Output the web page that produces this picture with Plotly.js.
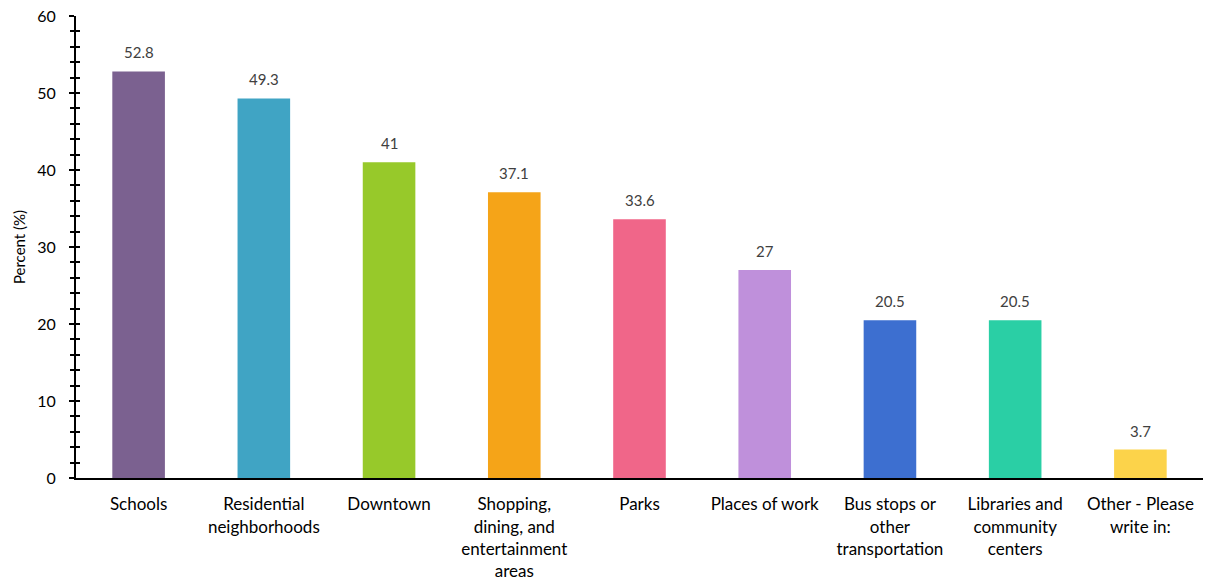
<!DOCTYPE html>
<html>
<head>
<meta charset="utf-8">
<script src="https://cdn.plot.ly/plotly-3.0.1.min.js"></script>
<style>html,body{margin:0;padding:0;background:#fff}#chart{width:1211px;height:582px}</style>
</head>
<body>
<div id="chart"></div>
<script>
const categories = ["Schools", "Residential<br>neighborhoods", "Downtown", "Shopping,<br>dining, and<br>entertainment<br>areas", "Parks", "Places of work", "Bus stops or<br>other<br>transportation", "Libraries and<br>community<br>centers", "Other - Please<br>write in:"];
const values = [52.8, 49.3, 41, 37.1, 33.6, 27, 20.5, 20.5, 3.7];
const labels = ["52.8", "49.3", "41", "37.1", "33.6", "27", "20.5", "20.5", "3.7"];
const colors = ["#7B6190", "#40A4C4", "#97C92A", "#F5A418", "#F06689", "#BF90DB", "#3D6FD0", "#2ACFA5", "#FCD34A"];

const fontFam = "Lato, 'Open Sans', sans-serif";
const trace = {
  type: "bar",
  x: categories,
  y: values,
  marker: {color: colors},
  hoverinfo: "none"
};
const dummy = {type: "scatter", x: [categories[0]], y: [0], yaxis: "y2", mode: "markers", marker: {opacity: 0}, hoverinfo: "none", showlegend: false};

const annotations = categories.map((c, i) => ({
  x: c, y: values[i], xref: "x", yref: "y",
  text: labels[i], showarrow: false, yanchor: "bottom", yshift: 8,
  font: {family: fontFam, size: 15, color: "#404040"}
}));

const layout = {
  width: 1211, height: 582,
  margin: {l: 76, r: 8, t: 16, b: 104},
  paper_bgcolor: "#fff", plot_bgcolor: "#fff",
  showlegend: false,
  bargap: 0.58,
  annotations: annotations,
  font: {family: fontFam, size: 16, color: "#000"},
  xaxis: {
    showline: true, linecolor: "#000", linewidth: 2,
    ticks: "", showgrid: false, zeroline: false,
    ticklabelstandoff: 10,
    tickfont: {family: fontFam, size: 17, color: "#000"},
    tickangle: 0
  },
  yaxis: {
    range: [0, 60], dtick: 10,
    showline: true, linecolor: "#000", linewidth: 2,
    ticks: "outside", ticklen: 5, tickwidth: 2, tickcolor: "#000",
    minor: {dtick: 2, ticks: "outside", ticklen: 4, tickwidth: 2, tickcolor: "#000"},
    showgrid: false, zeroline: false,
    ticklabelstandoff: 10,
    tickfont: {family: fontFam, size: 16, color: "#000"},
    title: {text: "Percent (%)", font: {family: fontFam, size: 15, color: "#000"}, standoff: 8}
  },
  yaxis2: {
    overlaying: "y", side: "left", anchor: "x",
    range: [0, 60], dtick: 10, showticklabels: false,
    ticks: "inside", ticklen: 4, tickwidth: 2, tickcolor: "#000",
    minor: {dtick: 2, ticks: "inside", ticklen: 4, tickwidth: 2, tickcolor: "#000"},
    showgrid: false, zeroline: false, showline: false
  }
};
Plotly.newPlot("chart", [trace, dummy], layout, {displayModeBar: false, staticPlot: true});
</script>
</body>
</html>
